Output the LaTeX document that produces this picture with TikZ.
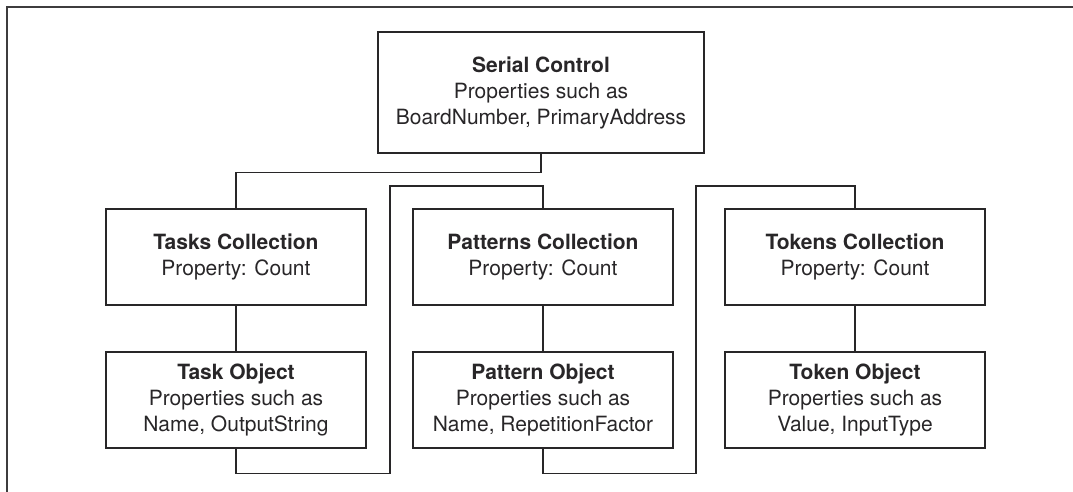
\documentclass[tikz,border=0pt]{standalone}
\usepackage{fontspec}
\setmainfont{TeX Gyre Heros}
\usepackage{xcolor}
\definecolor{ink}{RGB}{40, 38, 40}
\usepackage{tikz}
\usetikzlibrary{calc, positioning}

\begin{document}
\begin{tikzpicture}[
  obj/.style={rectangle, draw=ink, line width=0.6pt, text=ink, align=center,
    minimum width=4.569cm, minimum height=1.687cm, inner sep=0pt,
    font=\fontsize{10.5}{13}\selectfont},
  link/.style={draw=ink, line width=0.6pt},
  frame/.style={draw=ink!90, line width=1.1pt}
]
  \useasboundingbox (0,0) rectangle (18.856,8.646);
  \draw[frame] (0.123,0) |- (18.856,8.523);

  \node[obj, minimum width=5.729cm, minimum height=2.126cm] (serial) at (9.507,7.020) {
    \textbf{Serial Control}\\
    Properties such as\\
    BoardNumber, PrimaryAddress
  };

  \node[obj] (tcoll) at (4.147,4.130) {
    \textbf{Tasks Collection}\\
    Property: Count
  };
  \node[obj] (pcoll) at (9.542,4.130) {
    \textbf{Patterns Collection}\\
    Property: Count
  };
  \node[obj] (kcoll) at (15.025,4.130) {
    \textbf{Tokens Collection}\\
    Property: Count
  };

  \node[obj] (tobj) at (4.147,1.617) {
    \textbf{Task Object}\\
    Properties such as\\
    Name, OutputString
  };
  \node[obj] (pobj) at (9.542,1.617) {
    \textbf{Pattern Object}\\
    Properties such as\\
    Name, RepetitionFactor
  };
  \node[obj] (kobj) at (15.025,1.617) {
    \textbf{Token Object}\\
    Properties such as\\
    Value, InputType
  };

  \coordinate (jogA) at (6.854,5.377);
  \coordinate (jogB) at (12.231,5.377);

  \draw[link] (serial.south) -- ++(0,-0.334) -| (tcoll.north);
  \draw[link] (tcoll) -- (tobj);
  \draw[link] (tobj.south) -- ++(0,-0.439) -| (jogA) -| (pcoll.north);
  \draw[link] (pcoll) -- (pobj);
  \draw[link] (pobj.south) -- ++(0,-0.439) -| (jogB) -| (kcoll.north);
  \draw[link] (kcoll) -- (kobj);
\end{tikzpicture}
\end{document}
